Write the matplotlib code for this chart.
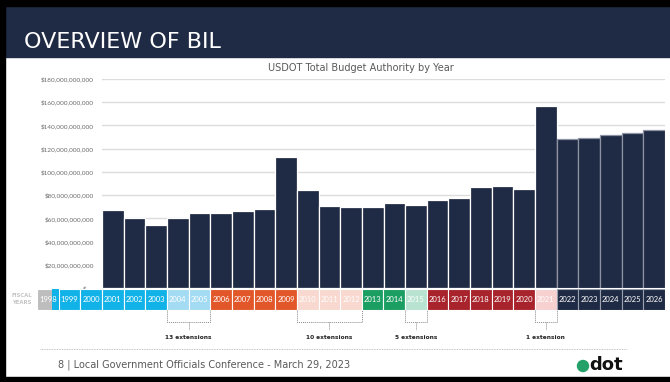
import numpy as np
import matplotlib
matplotlib.use("Agg")
import matplotlib.pyplot as plt
from matplotlib.patches import Rectangle, Ellipse
from matplotlib.lines import Line2D

# Budget authority by fiscal year (billions of $)
bar_years = list(range(2001, 2027))
budget_b = [67.0, 60.0, 54.0, 60.0, 64.4, 64.4, 66.0, 68.0, 112.4, 84.0,
            70.4, 69.5, 69.5, 73.0, 71.2, 75.5, 77.3, 86.7, 87.6, 85.0,
            157.0, 128.2, 129.4, 131.6, 133.6, 135.9]

# fiscal year strip (1998 .. 2026) with its period colours
strip_years = list(range(1998, 2027))
strip_colors = (["#bdbdbd"] + ["#11b2e8"] * 5 + ["#a3dbf3"] * 2 + ["#e2572a"] * 4
                + ["#f8d8cf"] * 3 + ["#1b9e62"] * 2 + ["#b9e3d1"] + ["#a8232b"] * 5
                + ["#f7d0d0"] + ["#1f2a44"] * 5)

extensions = [("13 extensions", 2004, 2005), ("10 extensions", 2010, 2012),
              ("5 extensions", 2015, 2015), ("1 extension", 2021, 2021)]

ytick_vals = list(range(0, 181, 20))
navy = "#1f2a44"

W, H = 670, 382
fig = plt.figure(figsize=(W / 100, H / 100), dpi=100)


def fx(x):
    return x / W


def fy(y):
    return 1 - y / H


def box(x0, y0, x1, y1):
    return [fx(x0), fy(y1), fx(x1) - fx(x0), fy(y0) - fy(y1)]


# slide frame and title band
fig.patches.append(Rectangle((fx(5), fy(57)), fx(670) - fx(5), fy(7) - fy(57),
                             transform=fig.transFigure, color=navy, zorder=0))
fig.patches.append(Rectangle((0, fy(6)), 1, fy(0) - fy(6), transform=fig.transFigure,
                             color="black", zorder=0))
fig.patches.append(Rectangle((0, 0), fx(5), 1, transform=fig.transFigure,
                             color="black", zorder=0))
fig.patches.append(Rectangle((0, 0), 1, fy(377), transform=fig.transFigure,
                             color="black", zorder=0))
fig.text(fx(24), fy(42), "OVERVIEW OF BIL", color="white", fontsize=16,
         va="center", ha="left", family="DejaVu Sans")

# bar chart
ax = fig.add_axes(box(102, 79, 665, 288))
x = np.arange(len(bar_years))
edges = ["white"] * 21 + ["#8d93a3"] * 5
ax.bar(x, budget_b, width=1.0, color=navy, edgecolor=edges, linewidth=0.9, zorder=3)
ax.set_xlim(-0.5, len(bar_years) - 0.5)
ax.set_ylim(0, 180)
ax.set_yticks(ytick_vals)
ax.set_yticklabels(["$-   " if v == 0 else "${:,.0f}".format(v * 1e9) for v in ytick_vals],
                   fontsize=4.6, color="#6a6a6a", family="Lato")
ax.tick_params(axis="y", length=0, pad=6)
ax.set_xticks([])
ax.grid(axis="y", color="#dcdcdc", linewidth=1.0, zorder=0)
for s in ax.spines.values():
    s.set_visible(False)
ax.set_title("USDOT Total Budget Authority by Year", fontsize=7, color="#595959",
             pad=6, x=0.46)

# fiscal year strip
sx = fig.add_axes(box(37, 289, 665, 310))
sx.set_xlim(-3.5, len(bar_years) - 0.5)
sx.set_ylim(-1, 0)
sx.axis("off")
for yr, c in zip(strip_years, strip_colors):
    pos = yr - 2001
    ec = "#9aa0ad" if yr >= 2022 else "white"
    sx.add_patch(Rectangle((pos - 0.5, -1), 1, 1, facecolor=c, edgecolor=ec,
                           linewidth=0.8, zorder=2))
# cyan sliver of 1999 running under the 1998 label
sx.add_patch(Rectangle((-2.8, -1), 0.3, 1, facecolor=strip_colors[1],
                       edgecolor="none", zorder=2))
for yr in strip_years:
    sx.text(yr - 2001, -0.5, str(yr), color="white", fontsize=5.5, ha="center",
            va="center", family="Lato", zorder=4)
fig.text(fx(22), fy(299), "FISCAL\nYEARS", color="#c4c4c4", fontsize=3.8,
         ha="center", va="center", fontweight="bold", linespacing=1.4)

# extension brackets
for label, y0, y1 in extensions:
    a, b = y0 - 2001 - 0.5, y1 - 2001 + 0.5
    kw = dict(color="#8c8c8c", linestyle=(0, (1, 1)), linewidth=0.7, clip_on=False)
    sx.plot([a, a, b, b], [-1, -1.57, -1.57, -1], **kw)
    sx.plot([(a + b) / 2] * 2, [-1.57, -1.95], **kw)
    sx.text((a + b) / 2, -2.3, label, fontsize=4.2, fontweight="bold",
            ha="center", va="center", color="#222222")

# dotted separator and footer
fig.lines.append(Line2D([fx(40), fx(627)], [fy(349), fy(349)], transform=fig.transFigure,
                        color="#b0b0b0", linestyle=(0, (1, 1)), linewidth=0.6))
fig.text(fx(58), fy(365), "8 | Local Government Officials Conference - March 29, 2023",
         fontsize=7, color="#595959", va="center", ha="left")
fig.patches.append(Ellipse((fx(583), fy(366)), fx(11), 11 / H, transform=fig.transFigure,
                           color="#23a168", zorder=5))
fig.text(fx(589), fy(365), "dot", fontsize=13, fontweight="bold", color="#111111",
         va="center", ha="left")

fig.savefig("out.png", dpi=100)
